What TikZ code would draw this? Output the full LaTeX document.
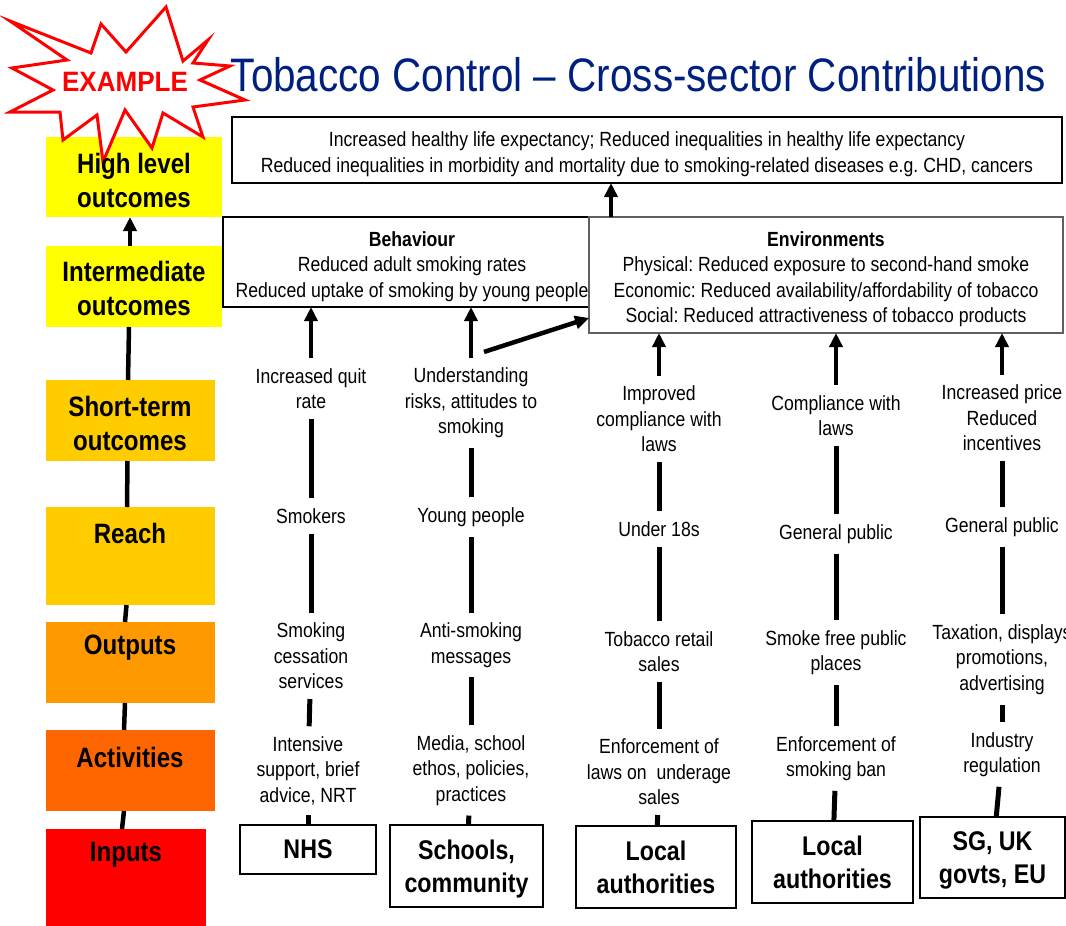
\documentclass[tikz,border=0pt]{standalone}
\usepackage{fontspec}
\setmainfont{Liberation Sans}[FakeStretch=0.86]
\newfontfamily\examplefont{Liberation Sans}[FakeStretch=0.93]
\usetikzlibrary{arrows.meta}
\frenchspacing

\definecolor{titleblue}{RGB}{0,32,128}
\definecolor{lvyellow}{RGB}{255,255,0}
\definecolor{lvgold}{RGB}{255,204,0}
\definecolor{lvorange}{RGB}{255,153,0}
\definecolor{lvdark}{RGB}{255,102,0}
\definecolor{lvred}{RGB}{255,0,0}
\definecolor{boxgray}{RGB}{95,95,95}

\newcommand\txtsize{\fontsize{20.5}{25.5}\selectfont}
\newcommand\lvlsize{\fontsize{28}{34}\selectfont\bfseries}
\newcommand\srcsize{\fontsize{27}{33}\selectfont\bfseries}

\tikzset{
  lvbox/.style={draw=none, inner sep=0pt, outer sep=0pt},
  lvtext/.style={font=\lvlsize, align=center, inner sep=0pt},
  outbox/.style={draw=black, line width=1.3pt, fill=white, inner sep=0pt, outer sep=0pt},
  envbox/.style={outbox, draw=boxgray, line width=1.8pt},
  boxtext/.style={font=\txtsize, align=center, inner sep=0pt},
  srcbox/.style={draw=black, line width=1.8pt, fill=white, align=center,
                 font=\srcsize, inner sep=0pt, outer sep=0pt, text depth=0pt},
  ctext/.style={font=\txtsize, align=center, inner sep=1pt, outer sep=9pt},
  link/.style={line width=5pt, black},
  spine/.style={line width=4.5pt, black},
  uparr/.style={line width=4.5pt, black, -{Triangle[width=13pt,length=14pt]}},
  burst/.style={draw=lvred, fill=white, line width=3pt, line join=miter},
}

\begin{document}
\begin{tikzpicture}[x=1pt, y=-1pt]
\useasboundingbox (0,0) rectangle (1066,926);
\clip (0,0) rectangle (1066,926);

% ---------- levels of the logic model (left column) ----------
\node[lvbox, fill=lvyellow, minimum width=176pt, minimum height=80pt] (high)   at (134,177)   {};
\node[lvbox, fill=lvyellow, minimum width=176pt, minimum height=81pt] (inter)  at (134,286.5) {};
\node[lvbox, fill=lvgold,   minimum width=169pt, minimum height=81pt] (short)  at (130.5,420.5) {};
\node[lvbox, fill=lvgold,   minimum width=169pt, minimum height=98pt] (reach)  at (130.5,556) {};
\node[lvbox, fill=lvorange, minimum width=169pt, minimum height=81pt] (outp)   at (130.5,662.5) {};
\node[lvbox, fill=lvdark,   minimum width=169pt, minimum height=81pt] (activ)  at (130.5,770.5) {};
\node[lvbox, fill=lvred,    minimum width=160pt, minimum height=97pt] (inputs) at (126,877.5) {};

\draw[spine] ([xshift=-4pt]inputs.north) -- ([xshift=-6.5pt]activ.south);
\draw[spine] ([xshift=-6.5pt]activ.north) -- ([xshift=-5.5pt]outp.south);
\draw[spine] ([xshift=-5.5pt]outp.north) -- ([xshift=-4pt]reach.south);
\draw[spine] ([xshift=-3.5pt]reach.north) -- ([xshift=-3pt]short.south);
\draw[spine] ([xshift=-2.5pt]short.north) -- ([xshift=-5pt]inter.south);
\draw[uparr] ([xshift=-4pt]inter.north) -- ([xshift=-4pt]high.south);

% ---------- starburst ----------
\draw[burst] (10,21) -- (91,53) -- (101,24) -- (126,52) -- (166,7) -- (183,61)
  -- (208,40) -- (193,63) -- (230,66) -- (200,80) -- (245,100) -- (193,107)
  -- (203,137) -- (163,113) -- (152,148) -- (125,110) -- (103,162) -- (97,115)
  -- (63,140) -- (60,112) -- (10,112) -- (53,90) -- (12,68) -- (67,60) -- cycle;
\node[font=\examplefont\fontsize{28}{30}\selectfont\bfseries, text=lvred, inner sep=0pt]
  (example) at (125,82) {EXAMPLE};

\node[lvtext] (highT)   at (134,180)   {High level\\outcomes};
\node[lvtext] (interT)  at (134,288.5) {Intermediate\\outcomes};
\node[lvtext] (shortT)  at (130,423.5) {Short-term\\outcomes};
\node[lvtext] (reachT)  at (130,533)   {Reach};
\node[lvtext] (outpT)   at (130,648)   {Outputs};
\node[lvtext] (activT)  at (130,757)   {Activities};
\node[lvtext] (inputsT) at (126,855)   {Inputs};

% ---------- title ----------
\node[font=\fontsize{47}{50}\selectfont, text=titleblue, inner sep=0pt]
  (title) at (638.5,75) {Tobacco Control -- Cross-sector Contributions};

% ---------- outcome boxes ----------
\node[outbox, minimum width=830pt, minimum height=66pt] (top) at (647,150) {};
\node[boxtext] (topT) at (647,154)
  {Increased healthy life expectancy; Reduced inequalities in healthy life expectancy\\
   Reduced inequalities in morbidity and mortality due to smoking-related diseases e.g. CHD, cancers};
\node[outbox, minimum width=378pt, minimum height=90pt] (beh) at (412,262) {};
\node[boxtext] (behT) at (412,266.5)
  {\textbf{Behaviour}\\Reduced adult smoking rates\\Reduced uptake of smoking by young people};
\node[envbox, minimum width=474pt, minimum height=116pt] (env) at (826,275) {};
\node[boxtext] (envT) at (826,279)
  {\textbf{Environments}\\Physical: Reduced exposure to second-hand smoke\\
   Economic: Reduced availability/affordability of tobacco\\
   Social: Reduced attractiveness of tobacco products};
\draw[uparr] ([xshift=-215pt]env.north) -- ([xshift=-215pt]env.north |- top.south);

% ---------- column 1: NHS ----------
\node[ctext] (q1) at (311,388.5) {Increased quit\\rate};
\node[ctext] (r1) at (311,516)   {Smokers};
\node[ctext] (o1) at (311,656)   {Smoking\\cessation\\services};
\node[ctext] (a1) at (308,770.5) {Intensive\\support, brief\\advice, NRT};
\node[srcbox, minimum width=136pt, minimum height=49pt] (nhs) at (308,849.5) {NHS};

% ---------- column 2: schools ----------
\node[ctext] (q2) at (471,403)   {Understanding\\risks, attitudes to\\smoking};
\node[ctext] (r2) at (471,517)   {Young people};
\node[ctext] (o2) at (471,645)   {Anti-smoking\\messages};
\node[ctext] (a2) at (471,770.5) {Media, school\\ethos, policies,\\practices};
\node[srcbox, minimum width=153pt, minimum height=82pt] (schools) at (466.5,866) {Schools,\\community};

% ---------- column 3: local authorities (underage sales) ----------
\node[ctext] (q3) at (659,419)   {Improved\\compliance with\\laws};
\node[ctext] (r3) at (659,529)   {Under 18s};
\node[ctext] (o3) at (659,651.5) {Tobacco retail\\sales};
\node[ctext] (a3) at (659,772)   {Enforcement of\\laws on\ \ underage\\sales};
\node[srcbox, minimum width=160pt, minimum height=82pt] (la1) at (656,867) {Local\\authorities};

% ---------- column 4: local authorities (smoking ban) ----------
\node[ctext] (q4) at (836,415.5) {Compliance with\\laws};
\node[ctext] (r4) at (836,534)   {General public};
\node[ctext] (o4) at (836,652.5) {Smoke free public\\places};
\node[ctext] (a4) at (836,758.5) {Enforcement of\\smoking ban};
\node[srcbox, minimum width=161pt, minimum height=82pt] (la2) at (832.5,862) {Local\\authorities};

% ---------- column 5: governments ----------
\node[ctext] (q5) at (1002,418) {Increased price\\Reduced\\incentives};
\node[ctext] (r5) at (1002,527)   {General public};
\node[ctext] (o5) at (1002,659.5) {Taxation, displays\\promotions,\\advertising};
\node[ctext] (a5) at (1002,754.5) {Industry\\regulation};
\node[srcbox, minimum width=145pt, minimum height=81pt] (gov) at (992.5,857.5) {SG, UK\\govts, EU};

% ---------- column links ----------
\foreach \s/\a/\o/\r/\q in {nhs/a1/o1/r1/q1, schools/a2/o2/r2/q2, la1/a3/o3/r3/q3,
                             la2/a4/o4/r4/q4, gov/a5/o5/r5/q5}{
  \draw[link] (\s) -- (\a);
  \draw[link] (\a) -- (\o);
  \draw[link] (\o) -- (\r);
  \draw[link] (\r) -- (\q);
}
\draw[uparr] (q1) -- (q1 |- beh.south);
\draw[uparr] (q2) -- (q2 |- beh.south);
\draw[uparr] ([xshift=13pt,yshift=6pt]q2.north) -- ([yshift=-43pt]env.west);
\draw[uparr] (q3) -- (q3 |- env.south);
\draw[uparr] (q4) -- (q4 |- env.south);
\draw[uparr] (q5) -- (q5 |- env.south);
\end{tikzpicture}
\end{document}
